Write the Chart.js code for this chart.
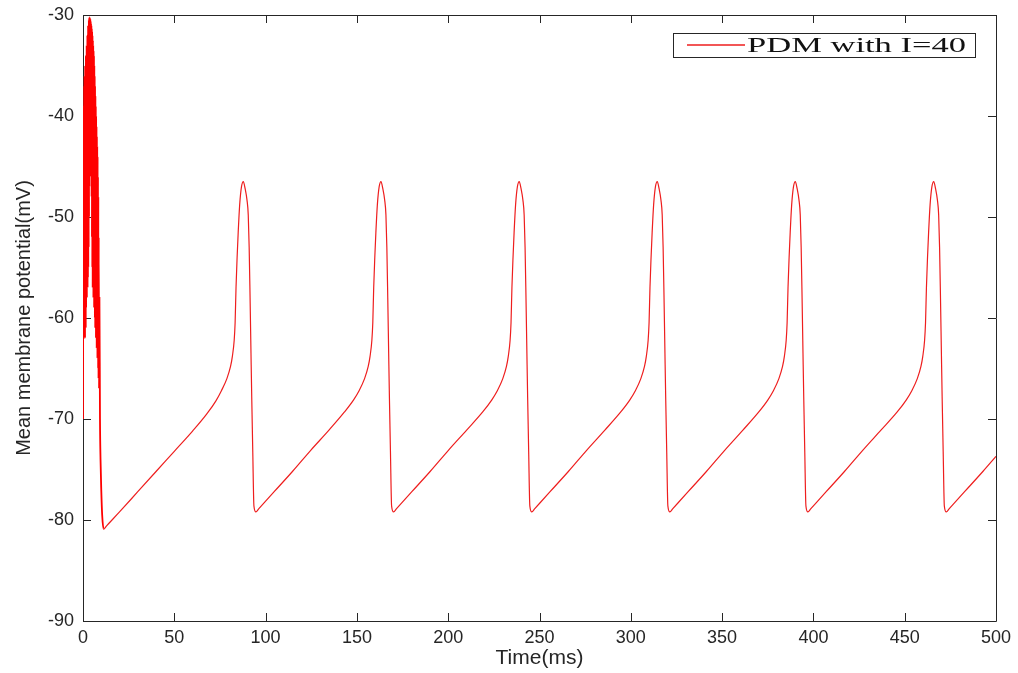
<!DOCTYPE html>
<html>
<head>
<meta charset="utf-8">
<title>PDM with I=40</title>
<script src="https://cdn.jsdelivr.net/npm/chart.js@4.4.1/dist/chart.umd.min.js"></script>
<style>
  html, body { margin: 0; padding: 0; background: #fff; }
  #wrap { width: 1018px; height: 673px; }
</style>
</head>
<body>
<div id="wrap"><canvas id="chart"></canvas></div>
<script>
// Tick values
const timeTicks = [0, 50, 100, 150, 200, 250, 300, 350, 400, 450, 500];
const mvTicks = [-90, -80, -70, -60, -50, -40, -30];

// [time (ms), membrane potential (mV)]
// fast transient at the start
const burst = [
  [0, -70], [0.1, -55], [0.2, -42], [0.3, -60], [0.4, -39], [0.5, -61], [0.6, -37], [0.7, -62],
  [0.8, -36], [0.9, -61], [1.0, -36], [1.1, -62], [1.2, -35], [1.3, -60], [1.4, -35], [1.5, -61],
  [1.6, -34], [1.7, -59], [1.8, -34], [1.9, -58], [2.0, -33], [2.1, -58], [2.2, -33], [2.3, -57],
  [2.4, -32], [2.5, -57], [2.6, -32], [2.7, -56], [2.8, -31], [2.9, -55], [3.0, -31], [3.1, -53],
  [3.2, -30.5], [3.3, -50], [3.4, -30.3], [3.5, -47], [3.6, -30.2], [3.7, -46], [3.8, -30.3], [3.9, -45],
  [4.0, -30.4], [4.1, -45], [4.2, -30.6], [4.3, -46], [4.4, -30.8], [4.5, -46], [4.6, -31], [4.7, -48],
  [4.8, -31.3], [4.9, -52], [5.0, -31.6], [5.1, -55], [5.2, -32], [5.3, -57], [5.4, -32.5], [5.5, -57],
  [5.6, -33], [5.7, -58], [5.8, -33.5], [5.9, -58], [6.0, -34], [6.1, -59], [6.2, -35], [6.3, -59],
  [6.4, -36], [6.5, -60], [6.6, -37], [6.7, -61], [6.8, -38], [6.9, -61], [7.0, -39], [7.1, -62],
  [7.2, -40], [7.3, -62], [7.4, -41], [7.5, -63], [7.6, -42], [7.7, -63], [7.8, -43], [7.9, -64],
  [8.0, -44], [8.1, -64], [8.2, -46], [8.3, -65], [8.4, -48], [8.5, -66], [8.6, -52], [8.8, -67],
  [9.0, -58], [9.3, -70], [9.6, -74], [10.0, -77], [10.5, -79.5], [11.3, -80.9]
];

const spike1 = [
  [12.8, -80.6], [20, -79.2], [30, -77.2], [40, -75.2], [50, -73.2], [60, -71.2], [67.8, -69.5], [72.8, -68.2],
  [75.8, -67.2], [78.8, -66.0], [80.8, -64.8], [81.8, -63.8], [82.8, -62.2], [83.3, -60.5], [83.8, -57.0],
  [84.4, -54.0], [85.0, -51.5], [85.8, -48.8], [86.8, -47.0], [87.8, -46.5], [88.8, -47.2], [89.8, -48.3],
  [90.5, -49.8], [91.0, -53.0], [91.5, -58.0], [92.0, -63.5], [92.4, -67.8], [93.0, -73.5], [93.6, -78.6],
  [94.7, -79.2]
];

const spike2 = [
  [96.2, -78.9], [104.7, -77.2], [114.7, -75.2], [124.7, -73.1], [134.7, -71.1], [143.2, -69.3], [148.2, -68.1],
  [151.2, -67.2], [154.2, -66.0], [156.2, -64.8], [157.2, -63.8], [158.2, -62.2], [158.7, -60.5],
  [159.2, -57.0], [159.8, -54.0], [160.4, -51.5], [161.2, -48.8], [162.2, -47.0], [163.2, -46.5],
  [164.2, -47.2], [165.2, -48.3], [165.9, -49.8], [166.4, -53.0], [166.9, -58.0], [167.4, -63.5],
  [167.8, -67.8], [168.4, -73.5], [169.0, -78.6], [170.1, -79.2]
];

const spike3 = [
  [171.6, -78.9], [180.1, -77.2], [190.1, -75.2], [200.1, -73.1], [210.1, -71.1], [218.9, -69.3], [223.9, -68.1],
  [226.9, -67.2], [229.9, -66.0], [231.9, -64.8], [232.9, -63.8], [233.9, -62.2], [234.4, -60.5],
  [234.9, -57.0], [235.5, -54.0], [236.1, -51.5], [236.9, -48.8], [237.9, -47.0], [238.9, -46.5],
  [239.9, -47.2], [240.9, -48.3], [241.6, -49.8], [242.1, -53.0], [242.6, -58.0], [243.1, -63.5],
  [243.5, -67.8], [244.1, -73.5], [244.7, -78.6], [245.8, -79.2]
];

const spike4 = [
  [247.3, -78.9], [255.8, -77.2], [265.8, -75.2], [275.8, -73.1], [285.8, -71.1], [294.5, -69.3], [299.5, -68.1],
  [302.5, -67.2], [305.5, -66.0], [307.5, -64.8], [308.5, -63.8], [309.5, -62.2], [310.0, -60.5],
  [310.5, -57.0], [311.1, -54.0], [311.7, -51.5], [312.5, -48.8], [313.5, -47.0], [314.5, -46.5],
  [315.5, -47.2], [316.5, -48.3], [317.2, -49.8], [317.7, -53.0], [318.2, -58.0], [318.7, -63.5],
  [319.1, -67.8], [319.7, -73.5], [320.3, -78.6], [321.4, -79.2]
];

const spike5 = [
  [322.9, -78.9], [331.4, -77.2], [341.4, -75.2], [351.4, -73.1], [361.4, -71.1], [370.1, -69.3], [375.1, -68.1],
  [378.1, -67.2], [381.1, -66.0], [383.1, -64.8], [384.1, -63.8], [385.1, -62.2], [385.6, -60.5],
  [386.1, -57.0], [386.7, -54.0], [387.3, -51.5], [388.1, -48.8], [389.1, -47.0], [390.1, -46.5],
  [391.1, -47.2], [392.1, -48.3], [392.8, -49.8], [393.3, -53.0], [393.8, -58.0], [394.3, -63.5],
  [394.7, -67.8], [395.3, -73.5], [395.9, -78.6], [397.0, -79.2]
];

const spike6 = [
  [398.5, -78.9], [407.0, -77.2], [417.0, -75.2], [427.0, -73.1], [437.0, -71.1], [445.9, -69.3], [450.9, -68.1],
  [453.9, -67.2], [456.9, -66.0], [458.9, -64.8], [459.9, -63.8], [460.9, -62.2], [461.4, -60.5],
  [461.9, -57.0], [462.5, -54.0], [463.1, -51.5], [463.9, -48.8], [464.9, -47.0], [465.9, -46.5],
  [466.9, -47.2], [467.9, -48.3], [468.6, -49.8], [469.1, -53.0], [469.6, -58.0], [470.1, -63.5],
  [470.5, -67.8], [471.1, -73.5], [471.7, -78.6], [472.8, -79.2]
];

const tail = [[474.3, -78.9], [482.8, -77.2], [492.8, -75.2], [500, -73.7]];

const trace = [burst, spike1, spike2, spike3, spike4, spike5, spike6, tail]
  .flat()
  .map(([t, v]) => ({ x: t, y: v }));

const burstEnd = burst[burst.length - 1][0];
const axisColor = '#262626';
const lineColor = 'rgb(238, 30, 30)';
const burstColor = 'rgb(255, 0, 0)';
const sansFont = '"Liberation Sans", Arial, Helvetica, sans-serif';

// MATLAB-style box with inward ticks on all four sides
const boxAxes = {
  id: 'boxAxes',
  beforeDatasetsDraw(chart) {
    const { ctx, chartArea: a, scales: { x, y } } = chart;
    const len = 8;
    ctx.save();
    ctx.strokeStyle = axisColor;
    ctx.lineWidth = 1;
    ctx.beginPath();
    ctx.rect(Math.round(a.left) + 0.5, Math.round(a.top) + 0.5,
      Math.round(a.right - a.left), Math.round(a.bottom - a.top));
    timeTicks.forEach(v => {
      const px = Math.round(x.getPixelForValue(v)) + 0.5;
      ctx.moveTo(px, a.bottom); ctx.lineTo(px, a.bottom - len);
      ctx.moveTo(px, a.top); ctx.lineTo(px, a.top + len);
    });
    mvTicks.forEach(v => {
      const py = Math.round(y.getPixelForValue(v)) + 0.5;
      ctx.moveTo(a.left, py); ctx.lineTo(a.left + len, py);
      ctx.moveTo(a.right, py); ctx.lineTo(a.right - len, py);
    });
    ctx.stroke();
    ctx.restore();
  }
};

// Legend box in the upper right of the axes
const boxLegend = {
  id: 'boxLegend',
  afterDraw(chart) {
    const { ctx, chartArea: a } = chart;
    const label = chart.data.datasets[0].label;
    const w = 302, h = 24;
    const left = Math.round(a.right) - 323, top = Math.round(a.top) + 18;
    ctx.save();
    ctx.fillStyle = '#fff';
    ctx.fillRect(left, top, w, h);
    ctx.strokeStyle = axisColor;
    ctx.lineWidth = 1;
    ctx.strokeRect(left + 0.5, top + 0.5, w, h);
    ctx.restore();

    ctx.save();
    ctx.beginPath();
    ctx.strokeStyle = lineColor;
    ctx.lineWidth = 1.5;
    ctx.moveTo(left + 14, top + 12);
    ctx.lineTo(left + 72, top + 12);
    ctx.stroke();
    ctx.restore();

    ctx.save();
    ctx.font = '20px "Liberation Serif", "Times New Roman", serif';
    ctx.fillStyle = '#111';
    ctx.textBaseline = 'alphabetic';
    const tw = ctx.measureText(label).width;
    ctx.translate(left + 74, top + 18.5);
    ctx.scale(219 / tw, 1);
    ctx.fillText(label, 0, 0);
    ctx.restore();
  }
};

// let the layout padding alone decide where the axes box sits
function noScalePadding(scale) {
  scale.paddingTop = 0;
  scale.paddingBottom = 0;
  scale.paddingLeft = 0;
  scale.paddingRight = 0;
}

const canvas = document.getElementById('chart');
const chart = new Chart(canvas.getContext('2d'), {
  type: 'line',
  data: {
    datasets: [{
      label: 'PDM with I=40',
      data: trace,
      borderColor: lineColor,
      borderWidth: 1.2,
      pointRadius: 0,
      cubicInterpolationMode: 'monotone',
      fill: false,
      segment: {
        borderWidth: ctx => (ctx.p1.parsed.x <= burstEnd ? 1.8 : 1.2),
        borderColor: ctx => (ctx.p1.parsed.x <= burstEnd ? burstColor : lineColor)
      }
    }]
  },
  options: {
    responsive: true,
    maintainAspectRatio: false,
    animation: false,
    layout: { padding: { left: 0, right: 22, top: 15, bottom: 0 } },
    plugins: {
      legend: { display: false },
      tooltip: { enabled: false }
    },
    scales: {
      x: {
        type: 'linear',
        min: 0,
        max: 500,
        afterBuildTicks: scale => { scale.ticks = timeTicks.map(v => ({ value: v })); },
        afterFit: scale => { scale.height = 52; noScalePadding(scale); },
        grid: { display: false, drawTicks: false },
        border: { display: false },
        ticks: {
          color: axisColor,
          font: { family: sansFont, size: 18 },
          padding: 6,
          maxRotation: 0,
          autoSkip: false
        },
        title: {
          display: true,
          text: 'Time(ms)',
          color: axisColor,
          font: { family: sansFont, size: 21 },
          padding: { top: 0, bottom: 2 }
        }
      },
      y: {
        type: 'linear',
        min: -90,
        max: -30,
        afterBuildTicks: scale => { scale.ticks = mvTicks.map(v => ({ value: v })); },
        afterFit: scale => { scale.width = 83; noScalePadding(scale); },
        grid: { display: false, drawTicks: false },
        border: { display: false },
        ticks: {
          color: axisColor,
          font: { family: sansFont, size: 18 },
          padding: 9,
          autoSkip: false
        },
        title: {
          display: true,
          text: 'Mean membrane potential(mV)',
          color: axisColor,
          font: { family: sansFont, size: 20 },
          padding: { top: 12, bottom: 0 }
        }
      }
    }
  },
  plugins: [boxAxes, boxLegend]
});
</script>
</body>
</html>
